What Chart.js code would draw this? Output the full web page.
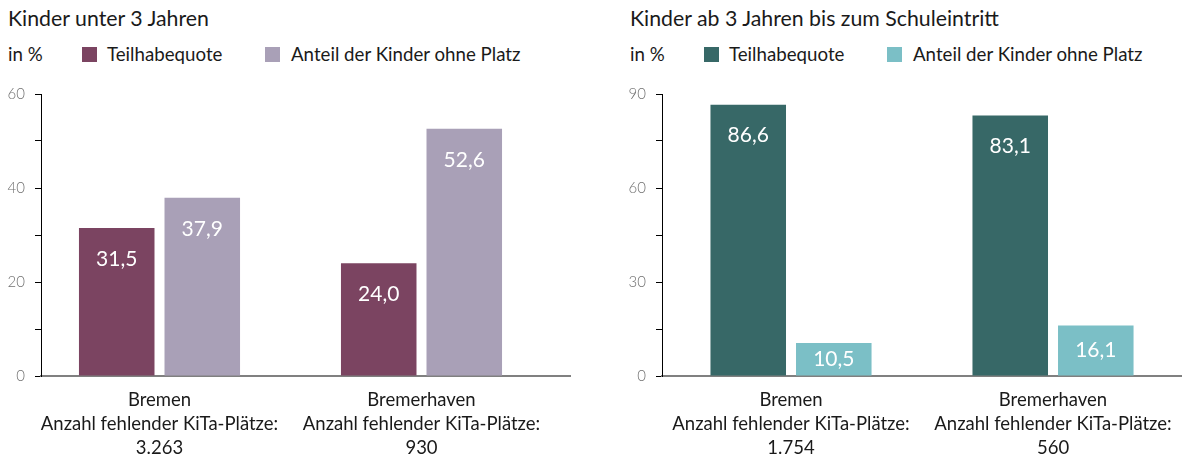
<!DOCTYPE html>
<html><head><meta charset="utf-8">
<script src="https://cdn.jsdelivr.net/npm/chart.js@4.4.1/dist/chart.umd.min.js"></script>
<style>
html,body{margin:0;padding:0;background:#fff;}
body{width:1182px;height:457px;position:relative;overflow:hidden;font-family:Lato,"Open Sans",sans-serif;color:#1a1a1a;}
.title{position:absolute;top:5px;font-size:21.3px;line-height:26px;white-space:nowrap;}
.leg{position:absolute;top:43px;font-size:18.7px;line-height:23px;white-space:nowrap;}
.sq{position:absolute;top:47px;width:15px;height:15px;}
.wrap{position:absolute;top:80px;width:591px;height:377px;}
</style></head>
<body>
<div class="title" style="left:8px" id="t1"></div>
<div class="title" style="left:630px" id="t2"></div>
<div id="legends"></div>
<div class="wrap" style="left:0"><canvas id="c1" width="591" height="377"></canvas></div>
<div class="wrap" style="left:591px"><canvas id="c2" width="591" height="377"></canvas></div>
<script>
// ---- data ----
const titleLeft = "Kinder unter 3 Jahren";
const titleRight = "Kinder ab 3 Jahren bis zum Schuleintritt";
const unitLabel = "in %";
const seriesNames = ["Teilhabequote", "Anteil der Kinder ohne Platz"];
const categories = ["Bremen", "Bremerhaven"];
const missingLabel = "Anzahl fehlender KiTa-Plätze:";
const missingU3 = ["3.263", "930"];
const missingU6 = ["1.754", "560"];
const teilhabeU3 = [31.5, 24.0];
const ohnePlatzU3 = [37.9, 52.6];
const teilhabeU6 = [86.6, 83.1];
const ohnePlatzU6 = [10.5, 16.1];
const yTicksU3 = [0, 20, 40, 60];
const yTicksU6 = [0, 30, 60, 90];

const colorsU3 = ["#7B4461", "#A9A0B7"];
const colorsU6 = ["#376867", "#7BBFC6"];

document.getElementById('t1').textContent = titleLeft;
document.getElementById('t2').textContent = titleRight;

function legend(x0, colors){
  const L = document.getElementById('legends');
  const mk = (cls, left, txt, col) => {
    const d = document.createElement('div'); d.className = cls; d.style.left = left + 'px';
    if (txt) d.textContent = txt; if (col) d.style.background = col; L.appendChild(d);
  };
  mk('leg', x0, unitLabel);
  mk('sq', x0 + 74, null, colors[0]);
  mk('leg', x0 + 99, seriesNames[0]);
  mk('sq', x0 + 257, null, colors[1]);
  mk('leg', x0 + 283, seriesNames[1]);
}
legend(8, colorsU3);
legend(630, colorsU6);

const labelPlugin = {
  id: 'valLabels',
  afterDatasetsDraw(chart){
    const ctx = chart.ctx;
    ctx.save();
    ctx.fillStyle = '#ffffff';
    ctx.font = '400 21px Lato';
    ctx.textAlign = 'center';
    ctx.textBaseline = 'middle';
    chart.data.datasets.forEach((ds, di) => {
      chart.getDatasetMeta(di).data.forEach((el, i) => {
        const v = ds.data[i].y;
        const y = Math.min(el.y + 31, (el.y + el.base) / 2);
        ctx.fillText(v.toFixed(1).replace('.', ','), el.x, y);
      });
    });
    ctx.restore();
  }
};

function makeChart(id, s1, s2, colors, yTicks, missing, yWidth, padRight, xmin, xmax){
  const step = yTicks[1] / 2;
  return new Chart(document.getElementById(id), {
    type: 'bar',
    data: {
      datasets: [
        {label: seriesNames[0], data: s1.map((v,i)=>({x:i, y:v})), backgroundColor: colors[0]},
        {label: seriesNames[1], data: s2.map((v,i)=>({x:i, y:v})), backgroundColor: colors[1]}
      ]
    },
    options: {
      responsive: false,
      animation: false,
      categoryPercentage: 0.653,
      barPercentage: 0.883,
      layout: {padding: {left: 0, right: padRight, top: 14, bottom: 0}},
      plugins: {legend: {display: false}, tooltip: {enabled: false}},
      scales: {
        x: {
          type: 'linear',
          offset: false,
          min: xmin, max: xmax,
          grid: {display: false, offset: false},
          border: {display: true, color: '#808080', width: 2},
          afterBuildTicks: (s) => { s.ticks = categories.map((c,i)=>({value:i})); },
          afterFit: (s) => { s.height = 81; s.paddingLeft = 0; s.paddingRight = 0; },
          ticks: {
            autoSkip: false, maxRotation: 0, padding: 4,
            color: '#1a1a1a',
            font: {family: 'Lato', size: 18.5, lineHeight: 1.3},
            callback: (v) => [categories[v], missingLabel, missing[v]]
          }
        },
        y: {
          min: yTicks[0], max: yTicks[yTicks.length-1],
          grid: {display: true, drawOnChartArea: false, drawTicks: true, tickLength: 6, color: '#000', lineWidth: 1},
          border: {display: true, color: '#000', width: 1},
          afterFit: (s) => { s.width = yWidth; s.paddingTop = 0; s.paddingBottom = 0; },
          ticks: {
            stepSize: step, padding: 10, color: '#707070',
            font: {family: 'Lato', size: 15, weight: 300},
            callback: (v) => yTicks.includes(v) ? String(v) : ''
          }
        }
      }
    },
    plugins: [labelPlugin]
  });
}

makeChart('c1', teilhabeU3, ohnePlatzU3, colorsU3, yTicksU3, missingU3, 41, 21, -0.4523, 1.5668);
makeChart('c2', teilhabeU6, ohnePlatzU6, colorsU6, yTicksU6, missingU6, 71, 1, -0.4924, 1.4885);
</script>
</body></html>
